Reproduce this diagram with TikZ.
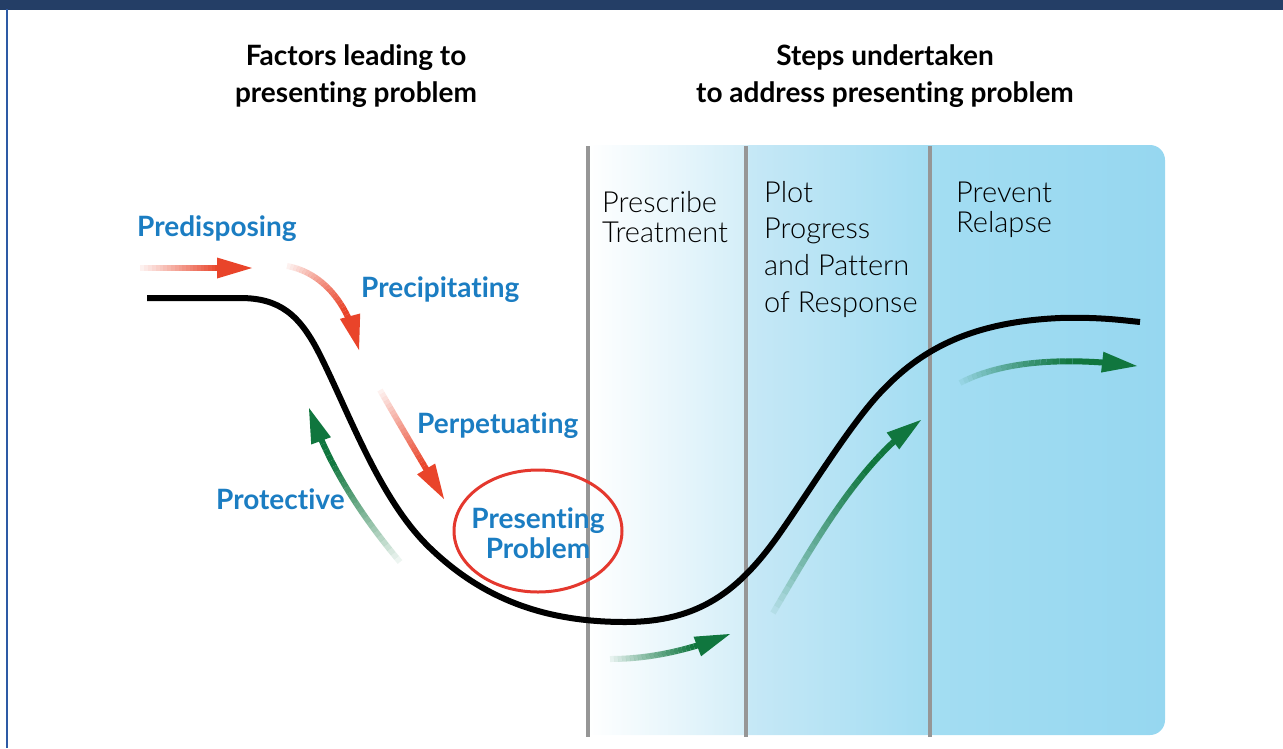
\documentclass[tikz,border=0pt]{standalone}
\usepackage{fontspec}
\setmainfont{Lato}[Ligatures=NoCommon]
\newfontfamily\lightfont{Lato Light}[Ligatures=NoCommon]
\usetikzlibrary{calc,shapes.geometric}
\definecolor{navy}{RGB}{36,62,102}
\definecolor{frameblue}{RGB}{45,90,165}
\definecolor{lblue}{RGB}{27,125,194}
\definecolor{redc}{RGB}{228,56,46}
\definecolor{orangec}{RGB}{233,68,42}
\definecolor{greenc}{RGB}{16,118,62}
\definecolor{greyl}{RGB}{150,150,150}
\definecolor{pA}{RGB}{212,238,248}
\definecolor{pB}{RGB}{198,232,246}
\definecolor{pC}{RGB}{163,221,242}
\definecolor{pD}{RGB}{150,215,240}
\pgfdeclarehorizontalshading{panelshade}{100bp}{color(0bp)=(white); color(27.3bp)=(white); color(40.4bp)=(pA); color(40.6bp)=(pB); color(55.6bp)=(pC); color(75bp)=(pD); color(100bp)=(pD)}
\newcommand\fadearrow[5]{%
  \path #2 .. controls #3 and #4 .. #5
    \foreach \k in {0,...,30}{coordinate[pos=\k/30] (fa\k)};
  \foreach \k [remember=\k as \j (initially 0)] in {1,...,26}{%
    \pgfmathsetmacro\op{min(1,0.03+\k/22)}%
    \draw[#1, line width=6, draw opacity=\op] (fa\j) -- (fa\k);
  }%
  \coordinate (fab) at ($(fa30)!35pt!(fa27)$);
  \fill[#1] (fa30) -- ($(fab)!10.5pt!90:(fa30)$) -- ($(fab)!10.5pt!-90:(fa30)$) -- cycle;
}
\tikzset{
  head/.style={font=\fontsize{28}{30}\selectfont\bfseries, anchor=base, inner sep=0},
  lab/.style={font=\fontsize{28}{30}\selectfont\bfseries, text=lblue, anchor=base west, inner sep=0},
  labc/.style={font=\fontsize{28}{30}\selectfont\bfseries, text=lblue, anchor=base, inner sep=0},
  stage/.style={font=\fontsize{29}{30}\selectfont\lightfont, anchor=base west, inner sep=0},
  gline/.style={draw=greyl, line width=4},
}
\begin{document}
\begin{tikzpicture}[x=1pt,y=-1pt]
\useasboundingbox (0,0) rectangle (1283,748);
% frame
\fill[navy] (0,0) rectangle (1283,9.5);
\draw[frameblue, line width=2] (7,9) -- (7,748);
% panel
\begin{scope}
  \clip (588,0) rectangle (1283,748);
  \path[shading=panelshade, rounded corners=15] (560,145) rectangle (1165,735);
\end{scope}
\draw[gline] (588,146) -- (588,737);
\draw[gline] (746,146) -- (746,737);
\draw[gline] (930,146) -- (930,737);
% main curve
\draw[line width=6, black] (147,298) -- (240,298)
  .. controls (280,298) and (300,315) .. (320,355)
  .. controls (350,415) and (380,500) .. (430,548)
  .. controls (480,596) and (540,622) .. (625,622)
  .. controls (700,622) and (740,590) .. (780,533)
  .. controls (810,490) and (850,425) .. (880,393)
  .. controls (920,350) and (970,322) .. (1060,318)
  .. controls (1100,317) and (1120,320) .. (1140,322);
% presenting problem ellipse
\node[ellipse, draw=redc, line width=3, minimum width=168, minimum height=122, inner sep=0] (pp) at (538,531) {};
% arrows
\fadearrow{orangec}{(140,268)}{(180,268)}{(215,268)}{(252,268)}
\fadearrow{orangec}{(287,266)}{(320,272)}{(348,300)}{(359,350)}
\fadearrow{orangec}{(380,390)}{(400,425)}{(422,462)}{(444,499)}
\fadearrow{greenc}{(400,562)}{(365,520)}{(330,470)}{(309,408)}
\fadearrow{greenc}{(610,659)}{(650,659)}{(690,650)}{(730,634)}
\fadearrow{greenc}{(773,613)}{(810,550)}{(860,460)}{(921,420)}
\fadearrow{greenc}{(960,383)}{(1000,362)}{(1060,356)}{(1137,366)}
% headings
\node[head] (h1a) at (356,65) {Factors leading to};
\node[head] (h1b) at (356,102) {presenting problem};
\node[head] (h2a) at (885,65) {Steps undertaken};
\node[head] (h2b) at (885,102) {to address presenting problem};
% factor labels
\node[lab] (l1) at (137,236) {Predisposing};
\node[lab] (l2) at (361,297) {Precipitating};
\node[lab] (l3) at (417,433) {Perpetuating};
\node[lab] (l4) at (216,509) {Protective};
\node[labc] (pp1) at (538,528) {Presenting};
\node[labc] (pp2) at (538,558) {Problem};
% stage labels
\node[stage] (s1a) at (602,212) {Prescribe};
\node[stage] (s1b) at (602,242) {Treatment};
\node[stage] (s2a) at (764,202) {Plot};
\node[stage] (s2b) at (764,238) {Progress};
\node[stage] (s2c) at (764,275) {and Pattern};
\node[stage] (s2d) at (764,312) {of Response};
\node[stage] (s3a) at (956,202) {Prevent};
\node[stage] (s3b) at (956,232) {Relapse};
\end{tikzpicture}
\end{document}
